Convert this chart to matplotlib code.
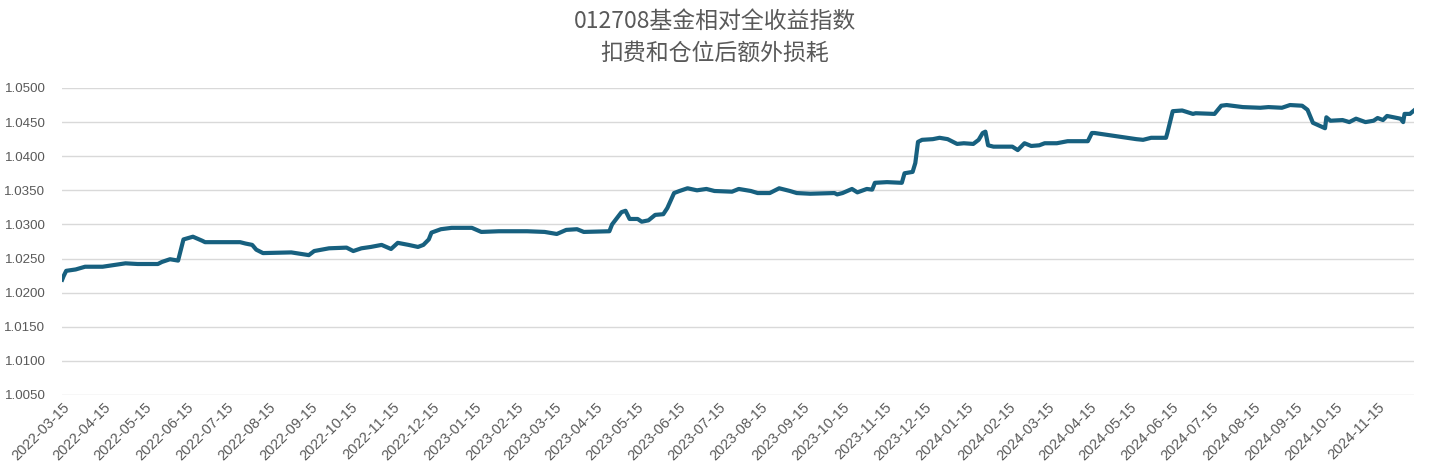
"""
Relative total-return index of fund 012708 (extra loss after fees and position).
"""

import pandas as pd
import matplotlib.pyplot as plt
import matplotlib.dates as mdates
from matplotlib.ticker import FormatStrFormatter

# ---- data ----
dates = [
    "2022-03-15", "2022-03-16", "2022-03-18", "2022-03-25", "2022-04-01", "2022-04-14",
    "2022-04-24", "2022-05-01", "2022-05-10", "2022-05-25", "2022-05-28", "2022-06-03",
    "2022-06-09", "2022-06-13", "2022-06-20", "2022-06-27", "2022-06-29", "2022-07-25",
    "2022-07-29", "2022-08-03", "2022-08-06", "2022-08-11", "2022-09-01", "2022-09-14",
    "2022-09-18", "2022-09-29", "2022-10-12", "2022-10-17", "2022-10-23", "2022-10-30",
    "2022-11-07", "2022-11-14", "2022-11-19", "2022-11-27", "2022-12-04", "2022-12-08",
    "2022-12-12", "2022-12-14", "2022-12-21", "2022-12-29", "2023-01-13", "2023-01-20",
    "2023-02-02", "2023-02-12", "2023-02-23", "2023-03-08", "2023-03-17", "2023-03-24",
    "2023-04-01", "2023-04-06", "2023-04-25", "2023-04-27", "2023-05-04", "2023-05-07",
    "2023-05-10", "2023-05-16", "2023-05-19", "2023-05-24", "2023-05-29", "2023-06-04",
    "2023-06-07", "2023-06-12", "2023-06-16", "2023-06-22", "2023-06-29", "2023-07-06",
    "2023-07-12", "2023-07-25", "2023-07-30", "2023-08-08", "2023-08-13", "2023-08-22",
    "2023-08-29", "2023-09-06", "2023-09-11", "2023-09-21", "2023-10-09", "2023-10-11",
    "2023-10-15", "2023-10-22", "2023-10-26", "2023-11-02", "2023-11-06", "2023-11-08",
    "2023-11-17", "2023-11-28", "2023-11-30", "2023-12-06", "2023-12-08", "2023-12-10",
    "2023-12-13", "2023-12-21", "2023-12-26", "2024-01-01", "2024-01-08", "2024-01-13",
    "2024-01-20", "2024-01-24", "2024-01-27", "2024-01-29", "2024-01-31", "2024-02-04",
    "2024-02-18", "2024-02-22", "2024-02-27", "2024-03-03", "2024-03-09", "2024-03-13",
    "2024-03-22", "2024-03-30", "2024-04-14", "2024-04-17", "2024-04-19", "2024-04-26",
    "2024-05-13", "2024-05-20", "2024-05-25", "2024-05-31", "2024-06-11", "2024-06-12",
    "2024-06-16", "2024-06-23", "2024-07-01", "2024-07-03", "2024-07-17", "2024-07-22",
    "2024-07-26", "2024-08-07", "2024-08-20", "2024-08-26", "2024-09-05", "2024-09-11",
    "2024-09-20", "2024-09-24", "2024-09-28", "2024-10-07", "2024-10-08", "2024-10-11",
    "2024-10-20", "2024-10-25", "2024-10-30", "2024-11-06", "2024-11-12", "2024-11-15",
    "2024-11-19", "2024-11-22", "2024-12-02", "2024-12-04", "2024-12-05", "2024-12-09",
    "2024-12-12",
]
index_values = [
    1.0219, 1.0224, 1.0232, 1.0234, 1.0238, 1.0238,
    1.0241, 1.0243, 1.0242, 1.0242, 1.0245, 1.0249,
    1.0247, 1.0278, 1.0282, 1.0276, 1.0274, 1.0274,
    1.0272, 1.0270, 1.0263, 1.0258, 1.0259, 1.0255,
    1.0261, 1.0265, 1.0266, 1.0261, 1.0265, 1.0267,
    1.0270, 1.0264, 1.0273, 1.0270, 1.0267, 1.0270,
    1.0278, 1.0288, 1.0293, 1.0295, 1.0295, 1.0289,
    1.0290, 1.0290, 1.0290, 1.0289, 1.0286, 1.0292,
    1.0293, 1.0289, 1.0290, 1.0300, 1.0318, 1.0320,
    1.0308, 1.0308, 1.0304, 1.0306, 1.0314, 1.0315,
    1.0324, 1.0346, 1.0349, 1.0353, 1.0350, 1.0352,
    1.0349, 1.0348, 1.0352, 1.0349, 1.0346, 1.0346,
    1.0353, 1.0349, 1.0346, 1.0345, 1.0346, 1.0344,
    1.0346, 1.0352, 1.0347, 1.0352, 1.0351, 1.0361,
    1.0362, 1.0361, 1.0375, 1.0377, 1.0390, 1.0421,
    1.0424, 1.0425, 1.0427, 1.0425, 1.0418, 1.0419,
    1.0418, 1.0424, 1.0434, 1.0436, 1.0416, 1.0414,
    1.0414, 1.0409, 1.0419, 1.0415, 1.0416, 1.0419,
    1.0419, 1.0422, 1.0422, 1.0434, 1.0434, 1.0432,
    1.0427, 1.0425, 1.0424, 1.0427, 1.0427, 1.0434,
    1.0466, 1.0467, 1.0462, 1.0463, 1.0462, 1.0474,
    1.0475, 1.0472, 1.0471, 1.0472, 1.0471, 1.0475,
    1.0474, 1.0468, 1.0449, 1.0441, 1.0457, 1.0452,
    1.0453, 1.0450, 1.0455, 1.0450, 1.0452, 1.0456,
    1.0453, 1.0459, 1.0455, 1.0450, 1.0462, 1.0462,
    1.0467,
]
title_lines = ["012708基金相对全收益指数", "扣费和仓位后额外损耗"]
tick_first_month, tick_last_month = "2022-03-01", "2024-11-01"
y_min, y_max, y_step = 1.0050, 1.0500, 0.0050

plt.rcParams['font.family'] = ['Noto Sans CJK SC', 'DejaVu Sans']

x = pd.to_datetime(dates)
# monthly ticks on the 15th
x_ticks = pd.date_range(tick_first_month, tick_last_month, freq='MS') + pd.Timedelta(days=14)

fig = plt.figure(figsize=(14.3, 4.7), dpi=100)
ax = fig.add_axes([0.0434, 0.1596, 0.9454, 0.6532])

ax.plot(x, index_values, color='#17607f', linewidth=3.0, solid_joinstyle='round')

# small margin on the left so the first monthly tick is kept
ax.set_xlim(x[0] - pd.Timedelta(hours=2), x[-1])
ax.set_ylim(y_min, y_max)
ax.set_yticks([y_min + i * y_step for i in range(int(round((y_max - y_min) / y_step)) + 1)])
ax.yaxis.set_major_formatter(FormatStrFormatter('%.4f'))
ax.set_xticks(x_ticks)
ax.xaxis.set_major_formatter(mdates.DateFormatter('%Y-%m-%d'))

ax.grid(True, axis='y', color='#d9d9d9', linewidth=1.0)
ax.set_axisbelow(True)
for side in ['top', 'right', 'left', 'bottom']:
    ax.spines[side].set_visible(False)
ax.tick_params(axis='both', length=0, colors='#595959')
ax.tick_params(axis='y', pad=12)
ax.tick_params(axis='x', pad=4)
for lbl in ax.get_yticklabels():
    lbl.set_family('Liberation Sans')
    lbl.set_fontsize(9.6)
for lbl in ax.get_xticklabels():
    lbl.set_family('Liberation Sans')
    lbl.set_fontsize(10.5)
    lbl.set_rotation(45)
    lbl.set_ha('right')
    lbl.set_rotation_mode('anchor')

fig.text(0.5, 1 - 21 / 470, title_lines[0], ha='center', va='center',
         fontsize=16.5, color='#595959')
fig.text(0.5, 1 - 53 / 470, title_lines[1], ha='center', va='center',
         fontsize=16.5, color='#595959')

fig.savefig('out.png', dpi=100)
plt.close(fig)
